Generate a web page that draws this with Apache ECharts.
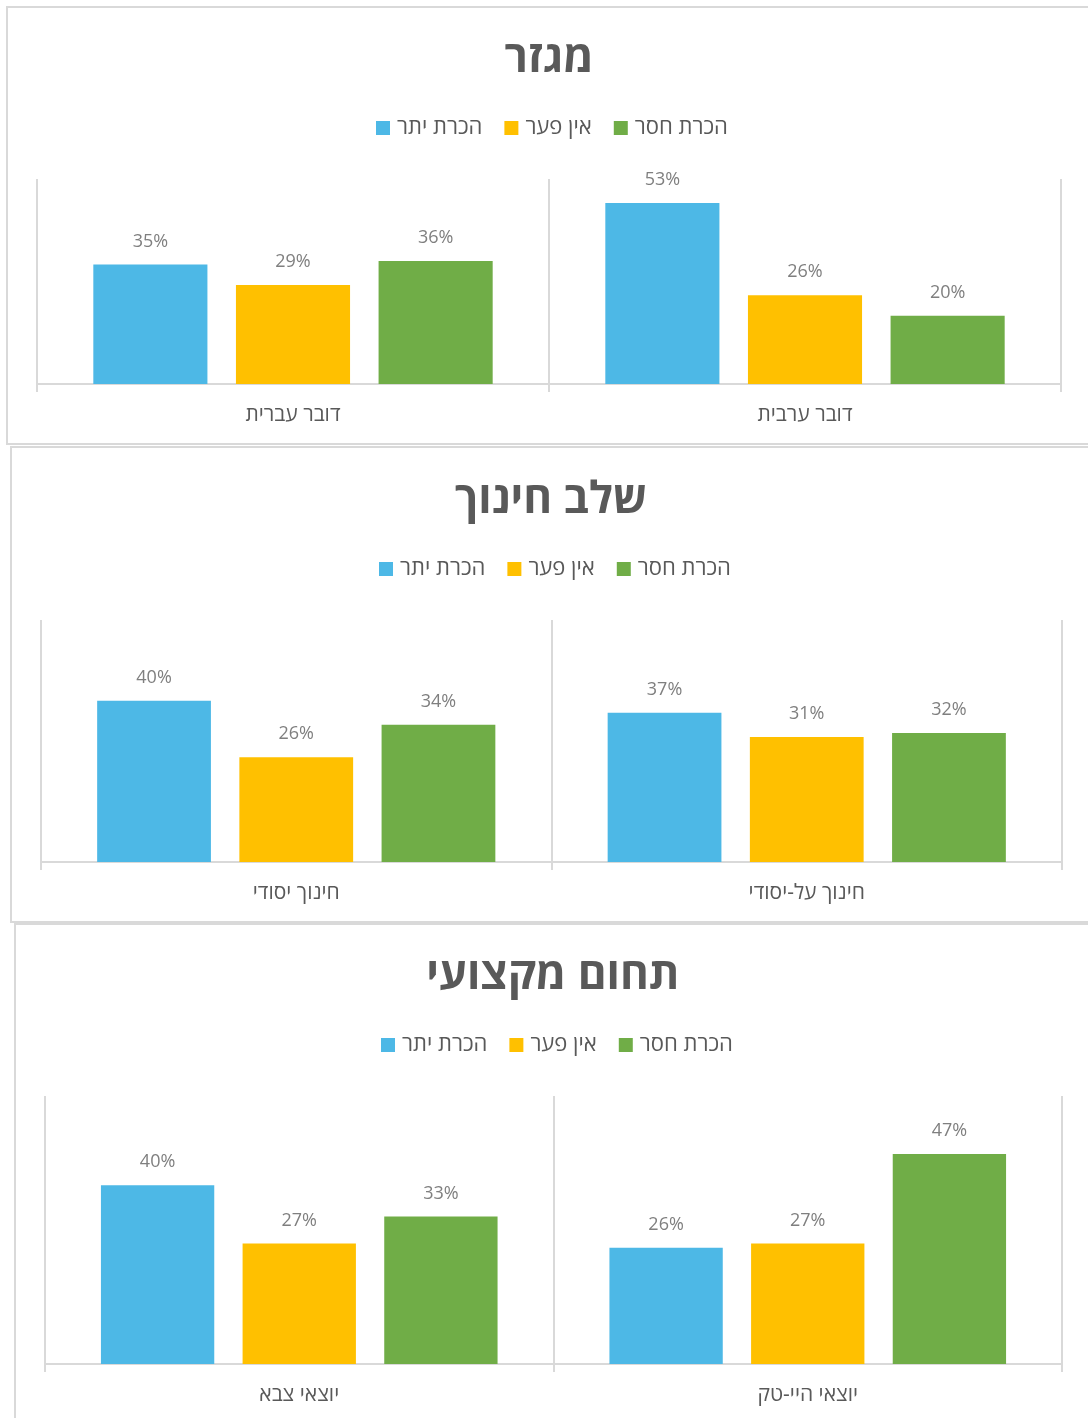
<!DOCTYPE html>
<html>
<head>
<meta charset="utf-8">
<script src="https://cdn.jsdelivr.net/npm/echarts@6/dist/echarts.min.js"></script>
<style>
html,body{margin:0;padding:0;background:#fff;}
#c{width:1088px;height:1418px;}
</style>
</head>
<body>
<div id="c"></div>
<script>
// Data
const seriesNames = ['הכרת יתר', 'אין פער', 'הכרת חסר'];
const colors = ['#4DB8E6', '#FFC000', '#70AD47'];

const titles = ['מגזר', 'שלב חינוך', 'תחום מקצועי'];

const cats1 = ['דובר עברית', 'דובר ערבית'];
const over1 = [35, 53];
const none1 = [29, 26];
const under1 = [36, 20];

const cats2 = ['חינוך יסודי', 'חינוך על-יסודי'];
const over2 = [40, 37];
const none2 = [26, 31];
const under2 = [34, 32];

const cats3 = ['יוצאי צבא', 'יוצאי היי-טק'];
const over3 = [40, 26];
const none3 = [27, 27];
const under3 = [33, 47];

const FONT = "'Open Sans', 'DejaVu Sans', sans-serif";
const chart = echarts.init(document.getElementById('c'));

const panels = [
  {cats: cats1, vals: [over1, none1, under1], grid: {left: 37, top: 179, width: 1024, height: 205}, titleTop: 32, titleX: 544, legendLeft: 376, legendTop: 117, frame: {x: 7, y: 7, width: 1100, height: 437}},
  {cats: cats2, vals: [over2, none2, under2], grid: {left: 41, top: 620, width: 1021, height: 242}, titleTop: 473, titleX: 546, legendLeft: 379, legendTop: 558, frame: {x: 11, y: 447, width: 1100, height: 475}},
  {cats: cats3, vals: [over3, none3, under3], grid: {left: 45, top: 1096, width: 1017, height: 268}, titleTop: 949, titleX: 548, legendLeft: 381, legendTop: 1034, frame: {x: 15, y: 924, width: 1100, height: 600}}
];

const option = {
  animation: false,
  textStyle: {fontFamily: FONT},
  title: [], legend: [], grid: [], xAxis: [], yAxis: [], series: [],
  graphic: []
};

panels.forEach((p, i) => {
  option.graphic.push({
    type: 'rect', z: -1, silent: true,
    shape: p.frame,
    style: {fill: 'none', stroke: '#D9D9D9', lineWidth: 2}
  });
  option.title.push({
    text: titles[i], left: p.titleX, top: p.titleTop, textAlign: 'center',
    textStyle: {fontFamily: FONT, fontSize: 44, fontWeight: 'bold', color: '#595959'}
  });
  option.legend.push({
    data: seriesNames, left: p.legendLeft, top: p.legendTop, padding: 0,
    itemWidth: 14, itemHeight: 14, itemGap: 22, icon: 'rect',
    textStyle: {fontFamily: FONT, fontSize: 22, color: '#595959', padding: [0, 0, 0, 2]}
  });
  option.grid.push(Object.assign({containLabel: false}, p.grid));
  option.xAxis.push({
    type: 'category', gridIndex: i, data: p.cats,
    axisLine: {show: true, lineStyle: {color: '#D9D9D9', width: 2}},
    axisTick: {show: true, length: 8, lineStyle: {color: '#D9D9D9', width: 2}},
    splitLine: {show: true, lineStyle: {color: '#D9D9D9', width: 2}},
    axisLabel: {margin: 21, fontFamily: FONT, fontSize: 21, color: '#595959'}
  });
  option.yAxis.push({
    type: 'value', gridIndex: i, min: 0, max: 60, interval: 10,
    show: false, splitLine: {show: false}
  });
  seriesNames.forEach((name, s) => {
    option.series.push({
      type: 'bar', name: name, xAxisIndex: i, yAxisIndex: i,
      data: p.vals[s],
      barGap: '25%', barCategoryGap: '22%',
      itemStyle: {color: colors[s]},
      label: {show: true, position: 'top', distance: 14, formatter: '{c}%',
        fontFamily: FONT, fontSize: 18, color: '#7F7F7F'}
    });
  });
});

chart.setOption(option);
</script>
</body>
</html>
